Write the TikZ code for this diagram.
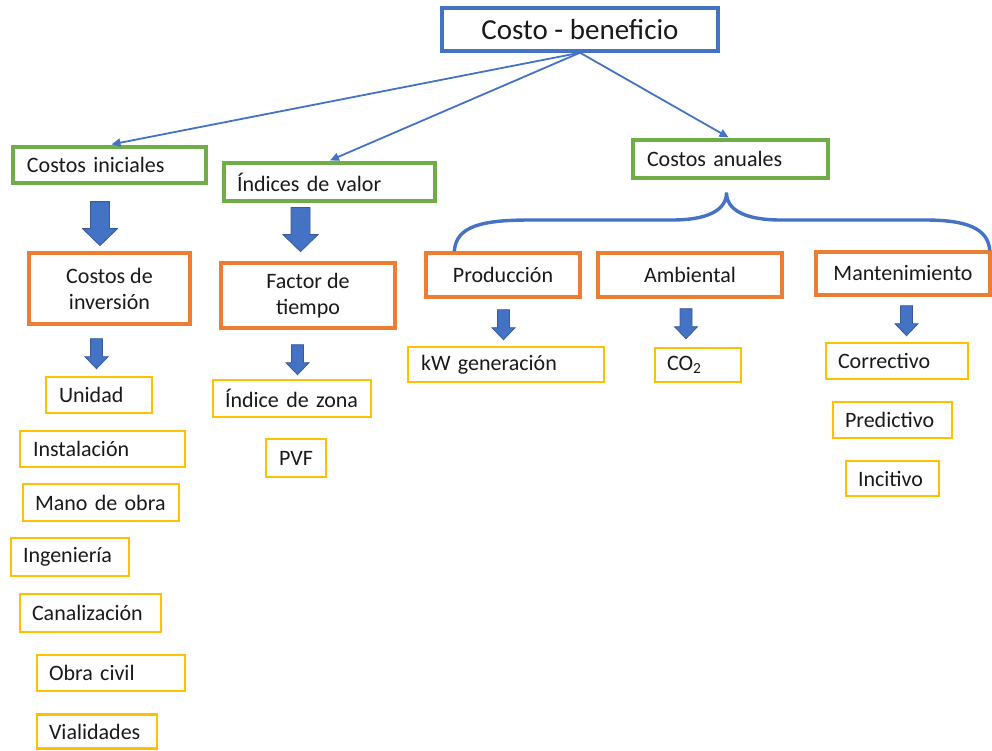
\documentclass[tikz,border=0pt]{standalone}
\usepackage{fontspec}
\setmainfont{Carlito}
\usetikzlibrary{arrows.meta,calc}
\definecolor{cblue}{HTML}{4472C4}
\definecolor{cgreen}{HTML}{70AD47}
\definecolor{corange}{HTML}{ED7D31}
\definecolor{cyellow}{HTML}{FFC000}
\begin{document}
\begin{tikzpicture}[x=1pt,y=-1pt,
  every node/.style={font=\fontsize{22}{26}\selectfont, inner ysep=0pt, text=black!90},
  bbox/.style={draw=cblue, line width=3.4pt, font=\fontsize{29}{34}\selectfont},
  gbox/.style={draw=cgreen, line width=3.2pt},
  obox/.style={draw=corange, line width=3.4pt, align=center},
  ybox/.style={draw=cyellow, line width=2.6pt},
  lb/.style 2 args={text width=#1pt, inner xsep=#2pt, align=left},
  link/.style={draw=cblue, line width=1.8pt, -{Triangle[length=9pt,width=8pt]}},
  brace/.style={draw=cblue, line width=3.4pt},
  bigarr/.pic={\filldraw[fill=cblue, draw=cblue!80!black, line width=0.8pt]
     (-9.5,0) -- (9.5,0) -- (9.5,27) -- (17.5,27) -- (0,44) -- (-17.5,27) -- (-9.5,27) -- cycle;},
  smallarr/.pic={\filldraw[fill=cblue, draw=cblue!80!black, line width=0.8pt]
     (-6,0) -- (6,0) -- (6,18) -- (11.5,18) -- (0,30) -- (-11.5,18) -- (-6,18) -- cycle;}
]
\useasboundingbox (0,0) rectangle (992,750);

% top
\node[bbox, minimum width=276pt, minimum height=43pt] (cb) at (580,29.5) {Costo - beneficio};

% level 1 (green)
\node[gbox, lb={165}{14}, minimum height=36pt] (ci) at (109.5,165) {Costos iniciales};
\node[gbox, lb={185}{13}, minimum height=38pt] (iv) at (329.5,182) {Índices de valor};
\node[gbox, lb={167}{14}, minimum height=38pt] (ca) at (730.5,159) {Costos anuales};

% level 2 (orange)
\node[obox, minimum width=161pt, minimum height=71pt] (cinv) at (109.5,288.5) {Costos de\\inversión};
\node[obox, minimum width=174pt, minimum height=65pt] (ft) at (308,295.5) {Factor de\\tiempo};
\node[obox, minimum width=154pt, minimum height=44pt] (pr) at (503,275) {Producción};
\node[obox, minimum width=184pt, minimum height=44pt] (am) at (690,275) {Ambiental};
\node[obox, minimum width=174pt, minimum height=43pt] (ma) at (903,273.5) {Mantenimiento};

% level 3 (yellow)
\node[ybox, lb={80}{13}, minimum height=36pt] (un) at (99,395) {Unidad};
\node[ybox, lb={139}{13}, minimum height=36pt] (ins) at (102.5,449) {Instalación};
\node[ybox, lb={132}{12}, minimum height=37pt] (mo) at (101,502.5) {Mano de obra};
\node[ybox, lb={94}{12}, minimum height=38pt] (ing) at (70,557) {Ingeniería};
\node[ybox, lb={117}{12}, minimum height=38pt] (can) at (90.5,613) {Canalización};
\node[ybox, lb={124}{12}, minimum height=36pt] (oc) at (111,673) {Obra civil};
\node[ybox, lb={96}{12}, minimum height=34pt] (vi) at (97,731.5) {Vialidades};

\node[ybox, lb={134}{12}, minimum height=37pt] (iz) at (292,398.5) {Índice de zona};
\node[ybox, minimum width=60pt, minimum height=38pt] (pvf) at (296,458) {PVF};

\node[ybox, lb={170}{13}, minimum height=35pt] (kw) at (506,364.5) {kW generación};
\node[ybox, lb={62}{12}, minimum height=34pt] (co) at (698,365) {CO\textsubscript{2}};

\node[ybox, lb={118}{12}, minimum height=36pt] (corr) at (897,361) {Correctivo};
\node[ybox, lb={95}{12}, minimum height=36pt] (pred) at (892.5,420) {Predictivo};
\node[ybox, lb={69}{12}, minimum height=35pt] (inc) at (892.5,478.5) {Incitivo};

% thin arrows from top
\draw[link] (cb.south) -- ($(ci.north)+(2,-1)$);
\draw[link] (cb.south) -- ($(iv.north)+(0.5,-1)$);
\draw[link] (cb.south) -- ($(ca.north)+(-2,-1)$);

% brace under Costos anuales
\coordinate (bl) at ($(pr.north west)+(30,0)$);
\coordinate (bp) at ($(ca.south)+(-4,13)$);
\coordinate (br) at ($(ma.north east)+(-2,0)$);
\draw[brace] (bl) .. controls (456,226) and (482,220) .. (530,220)
  -- (672,220) .. controls (708,220) and (726.5,210) .. (bp)
  .. controls (726.5,210) and (745,220) .. (781,220)
  -- (925,220) .. controls (966,220) and (988,228) .. (br);

% block arrows
\pic at ($(ci.south)+(-9.5,17)$) {bigarr};
\pic at ($(iv.south)+(-29,5)$) {bigarr};
\pic at ($(cinv.south)+(-13,13)$) {smallarr};
\pic at ($(ft.south)+(-10.5,15)$) {smallarr};
\pic at ($(pr.south)+(0.5,11)$) {smallarr};
\pic at ($(am.south)+(-4,10)$) {smallarr};
\pic at ($(ma.south)+(3.5,9)$) {smallarr};
\end{tikzpicture}
\end{document}
